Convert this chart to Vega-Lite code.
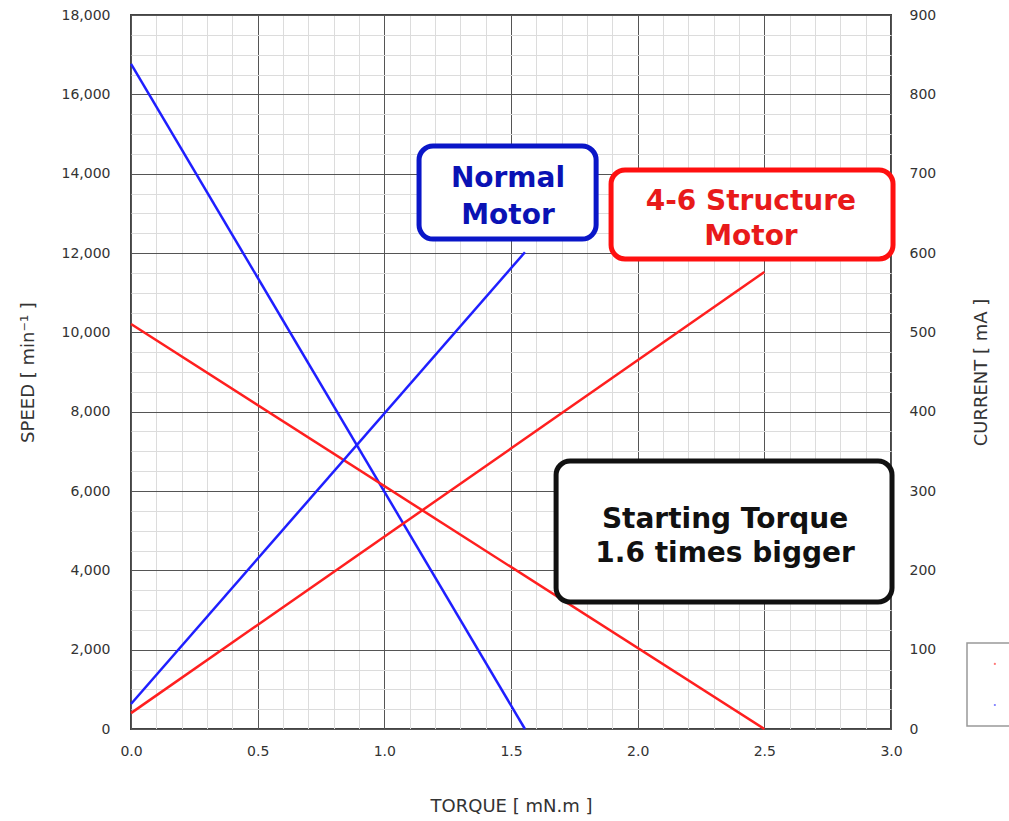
{
  "$schema": "https://vega.github.io/schema/vega-lite/v6.json",
  "width": 760,
  "height": 714,
  "autosize": {"type": "none"},
  "padding": {"left": 131, "top": 15, "right": 118, "bottom": 92},
  "background": "white",
  "config": {
    "font": "DejaVu Sans",
    "view": {"stroke": "#444", "strokeWidth": 2},
    "axis": {
      "ticks": false,
      "domain": false,
      "labelFlush": false,
      "labelFont": "DejaVu Sans",
      "labelFontSize": 14,
      "labelColor": "#333",
      "titleFont": "DejaVu Sans",
      "titleFontSize": 18,
      "titleFontWeight": "normal",
      "titleColor": "#333",
      "gridWidth": 1
    }
  },
  "datasets": {
    "curves": [
      {"motor": "Normal Motor", "torque": 0, "speed": 16770, "current": 31.5},
      {"motor": "Normal Motor", "torque": 1.555, "speed": 0, "current": 601},
      {"motor": "4-6 Structure Motor", "torque": 0, "speed": 10210, "current": 20},
      {"motor": "4-6 Structure Motor", "torque": 2.5, "speed": 0, "current": 576}
    ],
    "boxes": [
      {"box": "Normal", "x1": 1.137, "x2": 1.836, "y1": 12353, "y2": 14697},
      {"box": "Structure", "x1": 1.895, "x2": 3.008, "y1": 11849, "y2": 14092},
      {"box": "Starting", "x1": 1.678, "x2": 3.004, "y1": 3202, "y2": 6756}
    ],
    "notes": [
      {"box": "Normal", "text": "Normal", "torque": 1.488, "speed": 13664},
      {"box": "Normal", "text": "Motor", "torque": 1.488, "speed": 12731},
      {"box": "Structure", "text": "4-6 Structure", "torque": 2.447, "speed": 13084},
      {"box": "Structure", "text": "Motor", "torque": 2.447, "speed": 12202},
      {"box": "Starting", "text": "Starting Torque", "torque": 2.345, "speed": 5067},
      {"box": "Starting", "text": "1.6 times bigger", "torque": 2.345, "speed": 4210}
    ],
    "legendFrame": [
      {"x1": 3.3, "x2": 3.7, "y1": 76, "y2": 2168}
    ],
    "legendSwatches": [
      {"motor": "4-6 Structure Motor", "torque": 3.41, "speed": 1639},
      {"motor": "Normal Motor", "torque": 3.41, "speed": 605}
    ]
  },
  "layer": [
    {
      "layer": [
        {
          "data": {"name": "curves"},
          "mark": {"type": "point", "opacity": 0},
          "encoding": {
            "x": {
              "field": "torque", "type": "quantitative",
              "scale": {"domain": [0, 3], "nice": false, "zero": false},
              "axis": {
                "orient": "bottom", "grid": true, "gridColor": "#dcdcdc", "labels": false, "title": null,
                "values": [0.1,0.2,0.3,0.4,0.6,0.7,0.8,0.9,1.1,1.2,1.3,1.4,1.6,1.7,1.8,1.9,2.1,2.2,2.3,2.4,2.6,2.7,2.8,2.9]
              }
            },
            "y": {
              "field": "speed", "type": "quantitative",
              "scale": {"domain": [0, 18000], "nice": false},
              "axis": {
                "orient": "left", "grid": true, "gridColor": "#dcdcdc", "labels": false, "title": null,
                "values": [500,1000,1500,2500,3000,3500,4500,5000,5500,6500,7000,7500,8500,9000,9500,10500,11000,11500,12500,13000,13500,14500,15000,15500,16500,17000,17500]
              }
            }
          }
        },
        {
          "data": {"name": "curves"},
          "mark": {"type": "line", "strokeWidth": 2.5},
          "encoding": {
            "x": {
              "field": "torque", "type": "quantitative",
              "scale": {"domain": [0, 3], "nice": false, "zero": false},
              "axis": {
                "orient": "bottom", "grid": true, "gridColor": "#555", "format": ".1f",
                "values": [0, 0.5, 1, 1.5, 2, 2.5, 3],
                "labelPadding": 15,
                "title": "TORQUE [ mN.m ]", "titleX": 380, "titleY": 77, "titleBaseline": "middle", "titleAlign": "center"
              }
            },
            "y": {
              "field": "speed", "type": "quantitative",
              "scale": {"domain": [0, 18000], "nice": false},
              "axis": {
                "orient": "left", "grid": true, "gridColor": "#555", "format": ",d",
                "values": [0,2000,4000,6000,8000,10000,12000,14000,16000,18000],
                "labelPadding": 21,
                "title": "SPEED [ min⁻¹ ]", "titleX": -103, "titleY": 357, "titleAngle": -90, "titleBaseline": "middle", "titleAlign": "center"
              }
            },
            "color": {
              "field": "motor", "type": "nominal",
              "scale": {"domain": ["Normal Motor", "4-6 Structure Motor"], "range": ["#1f1fff", "#ff1f1f"]},
              "legend": null
            }
          }
        },
        {
          "data": {"name": "boxes"},
          "mark": {"type": "rect", "fill": "white", "strokeWidth": 5, "cornerRadius": 14},
          "encoding": {
            "x": {"field": "x1", "type": "quantitative", "scale": {"domain": [0, 3], "nice": false, "zero": false}, "axis": null},
            "x2": {"field": "x2"},
            "y": {"field": "y1", "type": "quantitative", "scale": {"domain": [0, 18000], "nice": false}, "axis": null},
            "y2": {"field": "y2"},
            "stroke": {
              "field": "box", "type": "nominal",
              "scale": {"domain": ["Normal", "Structure", "Starting"], "range": ["#0a16c8", "#ff1010", "#111111"]},
              "legend": null
            }
          }
        },
        {
          "data": {"name": "notes"},
          "mark": {"type": "text", "font": "DejaVu Sans", "fontWeight": "bold", "fontSize": 28, "align": "center", "baseline": "alphabetic"},
          "encoding": {
            "x": {"field": "torque", "type": "quantitative", "scale": {"domain": [0, 3], "nice": false, "zero": false}, "axis": null},
            "y": {"field": "speed", "type": "quantitative", "scale": {"domain": [0, 18000], "nice": false}, "axis": null},
            "text": {"field": "text"},
            "fill": {
              "field": "box", "type": "nominal",
              "scale": {"domain": ["Normal", "Structure", "Starting"], "range": ["#0a12b4", "#e81a1a", "#111111"]},
              "legend": null
            }
          }
        },
        {
          "data": {"name": "legendFrame"},
          "mark": {"type": "rect", "fill": "white", "stroke": "#999", "strokeWidth": 1.5},
          "encoding": {
            "x": {"field": "x1", "type": "quantitative", "scale": {"domain": [0, 3], "nice": false, "zero": false}, "axis": null},
            "x2": {"field": "x2"},
            "y": {"field": "y1", "type": "quantitative", "scale": {"domain": [0, 18000], "nice": false}, "axis": null},
            "y2": {"field": "y2"}
          }
        },
        {
          "data": {"name": "legendSwatches"},
          "mark": {"type": "point", "filled": true, "size": 5, "opacity": 0.6},
          "encoding": {
            "x": {"field": "torque", "type": "quantitative", "scale": {"domain": [0, 3], "nice": false, "zero": false}, "axis": null},
            "y": {"field": "speed", "type": "quantitative", "scale": {"domain": [0, 18000], "nice": false}, "axis": null},
            "color": {"field": "motor", "type": "nominal", "legend": null}
          }
        }
      ],
      "resolve": {"axis": {"x": "independent", "y": "independent"}}
    },
    {
      "data": {"name": "curves"},
      "mark": {"type": "line", "strokeWidth": 2.5},
      "encoding": {
        "x": {"field": "torque", "type": "quantitative", "scale": {"domain": [0, 3], "nice": false, "zero": false}, "axis": null},
        "y": {
          "field": "current", "type": "quantitative",
          "scale": {"domain": [0, 900], "nice": false},
          "axis": {
            "orient": "right", "grid": false,
            "values": [0,100,200,300,400,500,600,700,800,900],
            "labelPadding": 18,
            "title": "CURRENT [ mA ]", "titleX": 90, "titleY": 357, "titleAngle": -90, "titleBaseline": "middle", "titleAlign": "center"
          }
        },
        "color": {"field": "motor", "type": "nominal", "legend": null}
      }
    }
  ],
  "resolve": {"scale": {"y": "independent"}, "axis": {"x": "independent", "y": "independent"}}
}
